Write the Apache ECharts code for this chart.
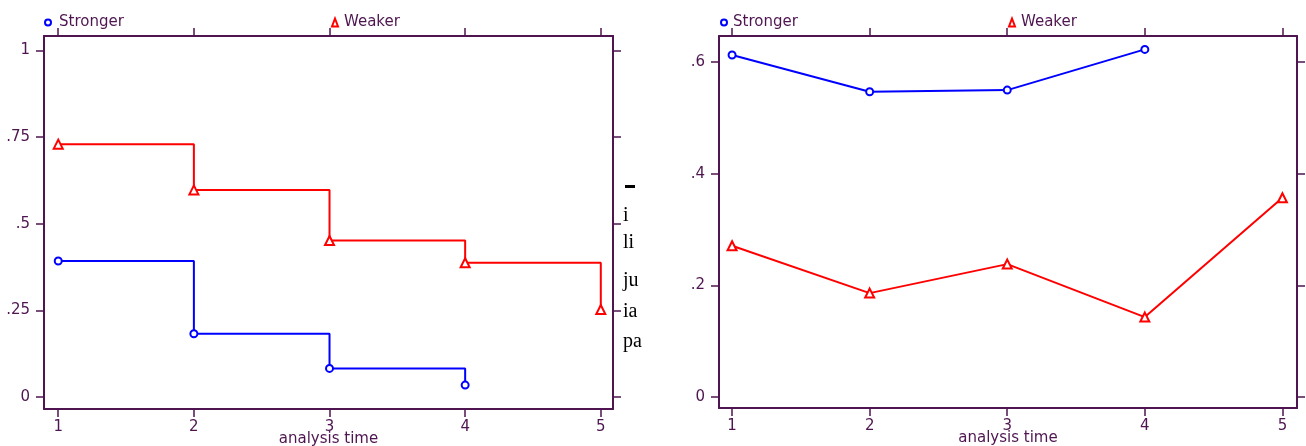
<!DOCTYPE html>
<html>
<head>
<meta charset="utf-8">
<script src="https://cdn.jsdelivr.net/npm/echarts@6/dist/echarts.min.js"></script>
<style>html,body{margin:0;padding:0;background:#fff;}#c{width:1306px;height:446px;}</style>
</head>
<body>
<div id="c"></div>
<script>
// ---- data ----
var timeTicks = [1, 2, 3, 4, 5];
var leftYTicks = [0, 0.25, 0.5, 0.75, 1];
var leftYLabels = ['0', '.25', '.5', '.75', '1'];
var rightYTicks = [0, 0.2, 0.4, 0.6];
var rightYLabels = ['0', '.2', '.4', '.6'];

var leftStrongerX = [1, 2, 3, 4];
var leftStrongerY = [0.393, 0.183, 0.083, 0.035];
var leftWeakerX = [1, 2, 3, 4, 5];
var leftWeakerY = [0.730, 0.598, 0.452, 0.388, 0.253];

var rightStrongerX = [1, 2, 3, 4];
var rightStrongerY = [0.613, 0.547, 0.550, 0.623];
var rightWeakerX = [1, 2, 3, 4, 5];
var rightWeakerY = [0.271, 0.186, 0.238, 0.143, 0.357];

var fragments = ['i', 'li', 'ju', 'ia', 'pa'];

function pairs(xs, ys) { return xs.map(function (x, i) { return [x, ys[i]]; }); }

var AX = '#4e1550';
var FONT = '"DejaVu Sans", "Liberation Sans", Arial, sans-serif';
var axisFont = { color: AX, fontSize: 15, fontFamily: FONT };

function xAx(grid, pos, min, max, showLabel) {
  return {
    type: 'value', gridIndex: grid, position: pos, min: min, max: max,
    splitLine: { show: false },
    axisLine: { show: true, onZero: false, lineStyle: { color: AX, width: 2 } },
    axisTick: { show: true, length: 8, customValues: timeTicks, lineStyle: { color: AX, width: 1.5 } },
    axisLabel: showLabel ? Object.assign({ show: true, margin: 11, customValues: timeTicks }, axisFont) : { show: false },
    name: showLabel ? 'analysis time' : '',
    nameLocation: 'middle', nameGap: 30, nameMoveOverlap: false,
    nameTextStyle: Object.assign({ verticalAlign: 'middle' }, axisFont)
  };
}
function yAx(grid, pos, min, max, ticks, labels, showLabel) {
  return {
    type: 'value', gridIndex: grid, position: pos, min: min, max: max,
    splitLine: { show: false },
    axisLine: { show: true, onZero: false, lineStyle: { color: AX, width: 2 } },
    axisTick: { show: true, length: 8, customValues: ticks, lineStyle: { color: AX, width: 1.5 } },
    axisLabel: showLabel ? Object.assign({
      show: true, margin: 14, customValues: ticks,
      formatter: function (v) { var i = ticks.indexOf(+v.toFixed(4)); return i >= 0 ? labels[i] : ''; }
    }, axisFont) : { show: false }
  };
}

var leg = function (left, name, icon, pad) {
  return {
    left: left, top: 10, data: [{ name: name, icon: icon }], itemWidth: 6, itemHeight: 8,
    itemGap: 0, selectedMode: false,
    textStyle: { color: AX, fontSize: 15, fontFamily: FONT, padding: [0, 0, 0, pad] }
  };
};

var option = {
  backgroundColor: '#fff',
  animation: false,
  legend: [
    leg(39, 'Stronger', 'emptyCircle', 3),
    leg(326, 'Weaker', 'emptyTriangle', 1),
    leg(715, 'Stronger', 'emptyCircle', 1),
    leg(1003, 'Weaker', 'emptyTriangle', 1)
  ],
  grid: [
    { left: 44, top: 36, width: 569, height: 373, containLabel: false, outerBoundsMode: 'none' },
    { left: 719, top: 36, width: 578, height: 372, containLabel: false, outerBoundsMode: 'none' }
  ],
  xAxis: [
    xAx(0, 'bottom', 0.895, 5.09, true),
    xAx(0, 'top', 0.895, 5.09, false),
    xAx(1, 'bottom', 0.905, 5.106, true),
    xAx(1, 'top', 0.905, 5.106, false)
  ],
  yAxis: [
    yAx(0, 'left', -0.034, 1.042, leftYTicks, leftYLabels, true),
    yAx(0, 'right', -0.034, 1.042, leftYTicks, leftYLabels, false),
    yAx(1, 'left', -0.02, 0.647, rightYTicks, rightYLabels, true),
    yAx(1, 'right', -0.02, 0.647, rightYTicks, rightYLabels, false)
  ],
  series: [
    { name: 'Stronger', type: 'line', step: 'end', xAxisIndex: 0, yAxisIndex: 0,
      data: pairs(leftStrongerX, leftStrongerY), symbol: 'emptyCircle', symbolSize: 7,
      color: '#0000ff', lineStyle: { width: 2, color: '#0000ff' }, itemStyle: { color: '#0000ff', borderWidth: 1.8 } },
    { name: 'Weaker', type: 'line', step: 'end', xAxisIndex: 0, yAxisIndex: 0,
      data: pairs(leftWeakerX, leftWeakerY), symbol: 'emptyTriangle', symbolSize: 9,
      color: '#ff0000', lineStyle: { width: 2, color: '#ff0000' }, itemStyle: { color: '#ff0000', borderWidth: 1.8 } },
    { name: 'Stronger', type: 'line', xAxisIndex: 2, yAxisIndex: 2,
      data: pairs(rightStrongerX, rightStrongerY), symbol: 'emptyCircle', symbolSize: 7,
      color: '#0000ff', lineStyle: { width: 2, color: '#0000ff' }, itemStyle: { color: '#0000ff', borderWidth: 1.8 } },
    { name: 'Weaker', type: 'line', xAxisIndex: 2, yAxisIndex: 2,
      data: pairs(rightWeakerX, rightWeakerY), symbol: 'emptyTriangle', symbolSize: 9,
      color: '#ff0000', lineStyle: { width: 2, color: '#ff0000' }, itemStyle: { color: '#ff0000', borderWidth: 1.8 } }
  ],
  graphic: [
    { type: 'rect', left: 625, top: 185, shape: { width: 10, height: 3 }, style: { fill: '#000' } }
  ].concat(fragments.map(function (t, i) {
    var ys = [218, 245, 283, 314, 344];
    return { type: 'text', left: 623, top: ys[i] - 12,
      style: { text: t, fill: '#000', font: '20px "Liberation Serif", "Times New Roman", serif' } };
  }))
};

var chart = echarts.init(document.getElementById('c'), null, { renderer: 'canvas' });
chart.setOption(option);
</script>
</body>
</html>
